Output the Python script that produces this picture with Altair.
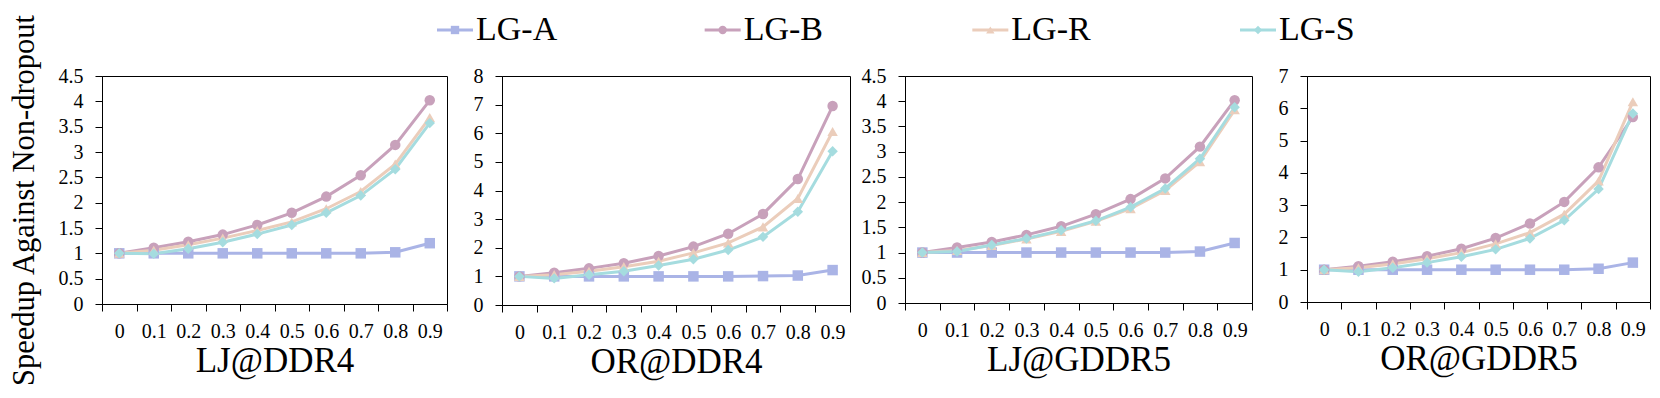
import altair as alt
import pandas as pd

drop_rates = ["0", "0.1", "0.2", "0.3", "0.4", "0.5", "0.6", "0.7", "0.8", "0.9"]
series = ["LG-A", "LG-B", "LG-R", "LG-S"]
colors = ["#AAB4E6", "#C8A1BB", "#EBCDBB", "#A5DCDF"]
shapes = ["square", "circle", "triangle-up", "diamond"]

panel_titles = ["LJ@DDR4", "OR@DDR4", "LJ@GDDR5", "OR@GDDR5"]
y_max = [4.5, 8, 4.5, 7]
y_ticks = [
    [0, 0.5, 1, 1.5, 2, 2.5, 3, 3.5, 4, 4.5],
    [0, 1, 2, 3, 4, 5, 6, 7, 8],
    [0, 0.5, 1, 1.5, 2, 2.5, 3, 3.5, 4, 4.5],
    [0, 1, 2, 3, 4, 5, 6, 7],
]

# LJ@DDR4
lj_ddr4_a = [1, 1, 1, 1, 1, 1, 1, 1, 1.02, 1.2]
lj_ddr4_b = [1, 1.11, 1.23, 1.37, 1.56, 1.80, 2.12, 2.54, 3.14, 4.02]
lj_ddr4_r = [1, 1.06, 1.17, 1.30, 1.45, 1.62, 1.88, 2.22, 2.76, 3.68]
lj_ddr4_s = [1, 0.99, 1.09, 1.22, 1.38, 1.56, 1.80, 2.14, 2.66, 3.57]

# OR@DDR4
or_ddr4_a = [1, 1, 1, 1, 1, 1, 1, 1.01, 1.03, 1.22]
or_ddr4_b = [1, 1.13, 1.28, 1.46, 1.71, 2.04, 2.49, 3.18, 4.40, 6.95]
or_ddr4_r = [1, 1.06, 1.18, 1.34, 1.53, 1.82, 2.17, 2.73, 3.72, 6.06]
or_ddr4_s = [1, 0.93, 1.06, 1.18, 1.38, 1.60, 1.92, 2.38, 3.26, 5.37]

# LJ@GDDR5
lj_gddr5_a = [1, 1, 1, 1, 1, 1, 1, 1, 1.02, 1.19]
lj_gddr5_b = [1, 1.10, 1.21, 1.35, 1.52, 1.76, 2.06, 2.47, 3.10, 4.02]
lj_gddr5_r = [1, 1.04, 1.14, 1.27, 1.42, 1.62, 1.87, 2.23, 2.80, 3.83]
lj_gddr5_s = [1, 1.02, 1.15, 1.28, 1.44, 1.63, 1.90, 2.27, 2.86, 3.88]

# OR@GDDR5
or_gddr5_a = [1, 1, 1, 1, 1, 1, 1, 1, 1.03, 1.22]
or_gddr5_b = [1, 1.11, 1.25, 1.42, 1.65, 1.98, 2.43, 3.10, 4.17, 5.73]
or_gddr5_r = [1, 1.06, 1.18, 1.34, 1.53, 1.80, 2.15, 2.72, 3.75, 6.20]
or_gddr5_s = [1, 0.94, 1.06, 1.22, 1.40, 1.63, 1.97, 2.53, 3.50, 5.84]

panel_data = [
    [lj_ddr4_a, lj_ddr4_b, lj_ddr4_r, lj_ddr4_s],
    [or_ddr4_a, or_ddr4_b, or_ddr4_r, or_ddr4_s],
    [lj_gddr5_a, lj_gddr5_b, lj_gddr5_r, lj_gddr5_s],
    [or_gddr5_a, or_gddr5_b, or_gddr5_r, or_gddr5_s],
]

FONT = "Liberation Serif"
widths = [345, 348, 347, 343]
heights = [228, 229, 227, 226]

color_scale = alt.Scale(domain=series, range=colors)
shape_scale = alt.Scale(domain=series, range=shapes)


def make_panel(i):
    rows = []
    for s, vals in zip(series, panel_data[i]):
        for d, v in zip(drop_rates, vals):
            rows.append({"drop": d, "value": v, "series": s})
    df = pd.DataFrame(rows)
    y_axis_kwargs = dict(
        values=y_ticks[i], format=".1~f", grid=False, tickSize=7, labelPadding=12,
        labelFontSize=20, labelFont=FONT, labelColor="black",
        domainColor="black", tickColor="black", labelFlush=False,
        labelOverlap=False,
    )
    if i == 0:
        y_axis = alt.Axis(title="Speedup Against Non-dropout", titleFontSize=30.5,
                          titleFont=FONT, titleFontWeight="normal", titleColor="black",
                          titlePadding=19, titleY=heights[0] / 2 + 10, **y_axis_kwargs)
    else:
        y_axis = alt.Axis(title=None, **y_axis_kwargs)
    base = alt.Chart(df).encode(
        x=alt.X("drop:N", sort=drop_rates,
                scale=alt.Scale(type="band", paddingInner=0, paddingOuter=0),
                axis=alt.Axis(title=panel_titles[i], titleFontSize=35, titleFont=FONT,
                              titleFontWeight="normal", titleColor="black",
                              titlePadding=2, tickBand="extent", tickSize=7,
                              labelPadding=10, labelFontSize=20, labelFont=FONT,
                              labelColor="black", labelAngle=0, domainColor="black",
                              tickColor="black", grid=False)),
        y=alt.Y("value:Q", scale=alt.Scale(domain=[0, y_max[i]], nice=False), axis=y_axis),
        color=alt.Color("series:N", scale=color_scale, legend=None),
        shape=alt.Shape("series:N", scale=shape_scale, legend=None),
        order=alt.Order("series:N"),
    )
    line = base.mark_line(strokeWidth=3)
    pts = base.mark_point(filled=True, size=110, opacity=1)
    return alt.layer(line, pts).properties(width=widths[i], height=heights[i])


leg_df = pd.DataFrame({"series": series, "row": ["legend"] * 4})
leg_base = alt.Chart(leg_df).encode(
    x=alt.X("series:N", sort=series,
            scale=alt.Scale(type="point", domain=series, range=[353, 1156], padding=0),
            axis=None),
    y=alt.Y("row:N", axis=None),
    color=alt.Color("series:N", scale=color_scale, legend=None),
)
leg_line = leg_base.mark_rule(strokeWidth=3, xOffset=-18, x2Offset=18).encode(x2=alt.X2("series:N"))
leg_pts = leg_base.mark_point(filled=True, size=70, opacity=1).encode(
    shape=alt.Shape("series:N", scale=shape_scale, legend=None))
leg_text = leg_base.mark_text(align="left", baseline="middle", dx=21, fontSize=34,
                              font=FONT, color="black").encode(
    text="series:N", color=alt.value("black"))
legend = alt.layer(leg_line, leg_pts, leg_text).properties(
    width=1548, height=30, view=alt.ViewBackground(strokeOpacity=0))

panels = alt.hconcat(*[make_panel(i) for i in range(4)], spacing=55, bounds="flush")

chart = alt.vconcat(legend, panels, spacing=31, bounds="flush").configure_view(
    stroke="black", strokeWidth=1
).properties(padding={"left": 0, "top": 5, "right": 0, "bottom": 0})

chart.save("out.html", embed_options={"renderer": "svg", "actions": False})
